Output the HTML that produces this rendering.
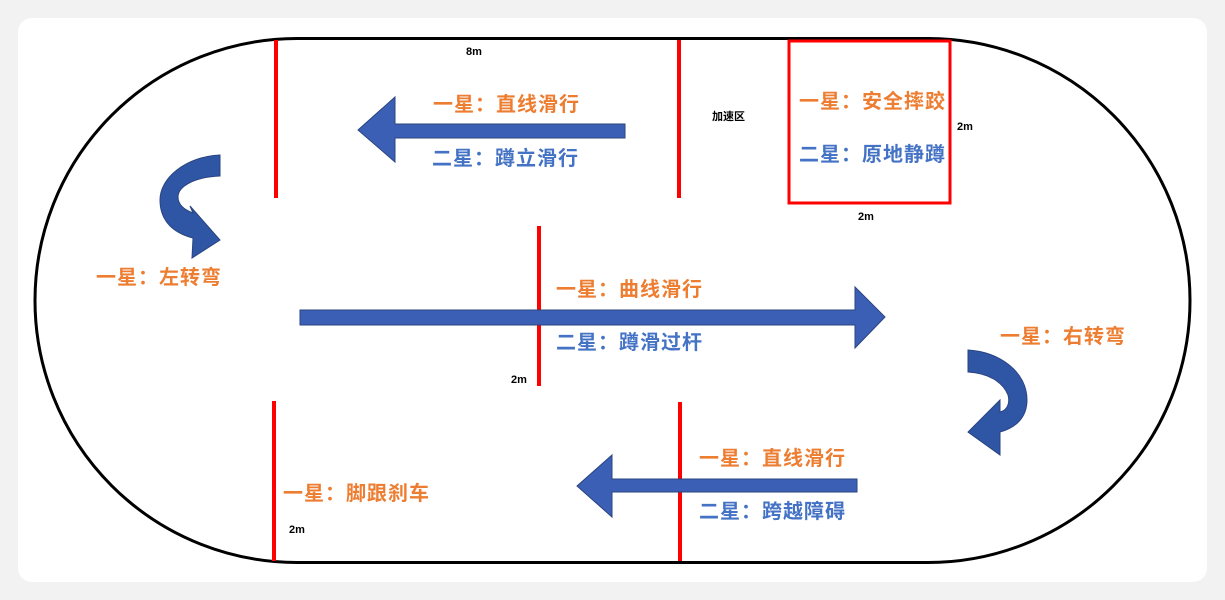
<!DOCTYPE html>
<html><head><meta charset="utf-8"><style>
html,body{margin:0;padding:0;background:#f2f2f2;}
svg{display:block}
text{font-family:"Liberation Sans","Noto Sans CJK SC",sans-serif;font-weight:bold;}
.o{fill:#ed7d31;font-size:20px;letter-spacing:1px;stroke:#fff;stroke-width:0.6px;paint-order:stroke}
.b{fill:#4472c4;font-size:20px;letter-spacing:1px;stroke:#fff;stroke-width:0.6px;paint-order:stroke}
.s{fill:#000;font-size:11px}
</style></head><body>
<svg width="1225" height="600" viewBox="0 0 1225 600">
<rect x="18" y="18" width="1189" height="564" rx="14" fill="#fff"/>
<rect x="35" y="38.5" width="1155" height="524" rx="262" fill="#fff" stroke="#000" stroke-width="3"/>
<g stroke="#ff0000" stroke-width="4">
<line x1="276" y1="40" x2="276" y2="198"/>
<line x1="679" y1="40" x2="679" y2="198"/>
<line x1="539" y1="226" x2="539" y2="386"/>
<line x1="274" y1="401" x2="274" y2="561"/>
<line x1="680" y1="402" x2="680" y2="561"/>
</g>
<rect x="789" y="41" width="161" height="162" fill="none" stroke="#ff0000" stroke-width="3"/>
<g fill="#3a5fb5" stroke="#2a4480" stroke-width="1">
<polygon points="625,124 395,124 395,97 358,130 395,162 395,138 625,138"/>
<polygon points="300,310 855,310 855,287 885,317 855,348 855,325 300,325"/>
<polygon points="857,479 612,479 612,455 577,486 612,517 612,492 857,492"/>
<path d="M220,155 L220,176 C195,177 178,186 178,197 C178,205 185,210 193,213 L190,206 L220,240 L192,258 L193,238 C170,232 160,218 160,200 C160,178 185,157 220,155 Z" fill="#2f55a5"/>
<path d="M968,350 C1000,352 1027,372 1027,400 C1027,418 1015,428 1000,432 L1000,455 L968,432 L1000,400 L1000,412 C1008,410 1010,402 1008,395 C1003,382 988,373 968,372 Z" fill="#2f55a5"/>
</g>
<text class="o" x="433" y="111">一星：直线滑行</text>
<text class="b" x="432" y="165">二星：蹲立滑行</text>
<text class="o" x="799" y="108">一星：安全摔跤</text>
<text class="b" x="799" y="161">二星：原地静蹲</text>
<text class="o" x="96" y="284">一星：左转弯</text>
<text class="o" x="556" y="296">一星：曲线滑行</text>
<text class="b" x="556" y="349">二星：蹲滑过杆</text>
<text class="o" x="1000" y="343">一星：右转弯</text>
<text class="o" x="699" y="465">一星：直线滑行</text>
<text class="b" x="699" y="518">二星：跨越障碍</text>
<text class="o" x="283" y="500">一星：脚跟刹车</text>
<text class="s" x="712" y="120">加速区</text>
<text class="s" x="466" y="55">8m</text>
<text class="s" x="957" y="130">2m</text>
<text class="s" x="858" y="220">2m</text>
<text class="s" x="511" y="383">2m</text>
<text class="s" x="289" y="533">2m</text>
</svg>
</body></html>
